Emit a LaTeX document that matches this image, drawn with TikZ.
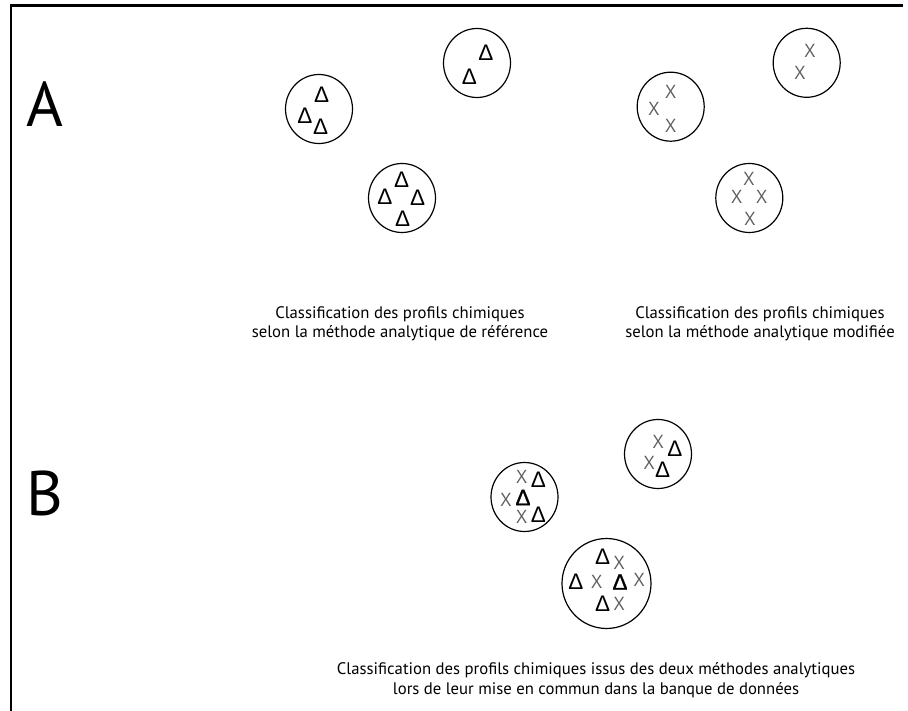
\documentclass[tikz,border=0pt]{standalone}
\usepackage{fontspec}
\setmainfont{PT Sans}
\newfontfamily\deltafont{Liberation Sans}
\newfontfamily\deltabold[FakeBold=1.3]{Liberation Sans}
\newfontfamily\crossfont{Open Sans}
\usetikzlibrary{shapes.geometric}

\definecolor{xgray}{HTML}{5E5E5E}

\tikzset{
  cluster/.style={draw, ellipse, line width=1.2pt, minimum width=67pt, minimum height=69pt, inner sep=0pt},
  bigcluster/.style={cluster, minimum width=89pt, minimum height=90pt},
  tri/.style={inner sep=0pt, font=\deltafont\fontsize{22.5}{22.5}\selectfont},
  tribold/.style={inner sep=0pt, font=\deltabold\fontsize{22.5}{22.5}\selectfont},
  cross/.style={inner sep=0pt, text=xgray, font=\crossfont\fontsize{18.5}{18.5}\selectfont},
  caption/.style={align=center, inner sep=0pt, font=\fontsize{16.7}{19.4}\selectfont},
  panel/.style={inner sep=0pt, anchor=base west, font=\fontsize{63}{63}\selectfont},
}

\begin{document}
\begin{tikzpicture}[x=1pt, y=-1pt]
  \useasboundingbox (0,0) rectangle (908,711);

  % frame (top and left edges)
  \draw[line width=2.7pt] (11,712) -- (11,5.3) -- (903,5.3);

  % panel letters
  \node[panel] (lblA) at (26,126.7) {A};
  \node[panel] (lblB) at (26,515) {B};

  % --- A: reference method ---
  \node[cluster] (a1) at (319,109) {};
  \node[tri] (a1t1) at (321.7,95) {Δ};
  \node[tri] (a1t2) at (305,116) {Δ};
  \node[tri] (a1t3) at (320.7,126.7) {Δ};

  \node[cluster] (a2) at (477,63) {};
  \node[tri] (a2t1) at (486,52.7) {Δ};
  \node[tri] (a2t2) at (469.3,76.7) {Δ};

  \node[cluster] (a3) at (402,198) {};
  \node[tri] (a3t1) at (401.7,180) {Δ};
  \node[tri] (a3t2) at (385,196.7) {Δ};
  \node[tri] (a3t3) at (417.7,197.3) {Δ};
  \node[tri] (a3t4) at (402.7,218.3) {Δ};

  % --- A: modified method ---
  \node[cluster] (m1) at (670.7,106.7) {};
  \node[cross] (m1x1) at (670.7,91.7) {X};
  \node[cross] (m1x2) at (654,109.3) {X};
  \node[cross] (m1x3) at (670.7,126) {X};

  \node[cluster] (m2) at (806.7,62.8) {};
  \node[cross] (m2x1) at (810,50.7) {X};
  \node[cross] (m2x2) at (800,73.3) {X};

  \node[cluster] (m3) at (749.3,198) {};
  \node[cross] (m3x1) at (749,179) {X};
  \node[cross] (m3x2) at (736.7,196.7) {X};
  \node[cross] (m3x3) at (761.7,196.7) {X};
  \node[cross] (m3x4) at (750,219) {X};

  \node[caption] (capref) at (400,324) {Classification des profils chimiques\\selon la méthode analytique de référence};
  \node[caption] (capmod) at (760,324) {Classification des profils chimiques\\selon la méthode analytique modifiée};

  % --- B: merged data bank ---
  \node[cluster] (b1) at (524.5,497) {};
  \node[cross] (b1x1) at (521.7,476.5) {X};
  \node[tri] (b1t1) at (538.3,480) {Δ};
  \node[cross] (b1x2) at (506,500) {X};
  \node[tribold] (b1t2) at (523,497.5) {Δ};
  \node[cross] (b1x3) at (521.7,517) {X};
  \node[tri] (b1t3) at (538.3,515) {Δ};

  \node[cluster] (b2) at (658,454) {};
  \node[cross] (b2x1) at (658.3,441.7) {X};
  \node[tri] (b2t1) at (675,448.3) {Δ};
  \node[cross] (b2x2) at (649.3,463.3) {X};
  \node[tri] (b2t2) at (662.7,470) {Δ};

  \node[bigcluster] (b3) at (606.5,583.5) {};
  \node[tri] (b3t1) at (602.7,556.7) {Δ};
  \node[cross] (b3x1) at (619.3,562.5) {X};
  \node[tri] (b3t2) at (576,581.7) {Δ};
  \node[cross] (b3x2) at (596.7,581.7) {X};
  \node[tribold] (b3t3) at (620,582) {Δ};
  \node[cross] (b3x3) at (639.3,580) {X};
  \node[tri] (b3t4) at (602.7,604) {Δ};
  \node[cross] (b3x4) at (619.3,604) {X};

  \node[caption] (capbank) at (596,680) {Classification des profils chimiques issus des deux méthodes analytiques\\lors de leur mise en commun dans la banque de données};
\end{tikzpicture}
\end{document}
